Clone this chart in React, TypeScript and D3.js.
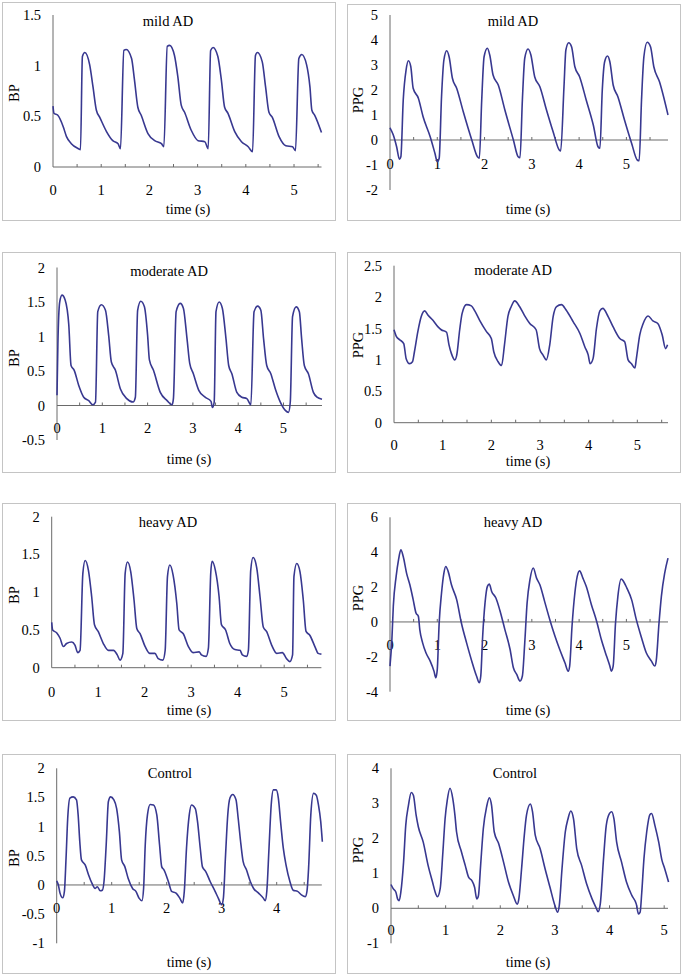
import React from "react";
import * as d3 from "d3";

type Pt = [number, number];

// ---------- data (time s, value) ----------
const mildBP: Pt[] = [
  [0, 0.6], [0.02, 0.53], [0.1, 0.51], [0.21, 0.4], [0.28, 0.3], [0.38, 0.23], [0.53, 0.18], [0.57, 0.17],
  [0.61, 1.09], [0.66, 1.13], [0.76, 1.01], [0.83, 0.79], [0.9, 0.56], [0.97, 0.49], [1.11, 0.35], [1.24, 0.26], [1.35, 0.23], [1.4, 0.18],
  [1.47, 1.15], [1.52, 1.16], [1.63, 1.07], [1.69, 0.86], [1.76, 0.59], [1.83, 0.51], [1.97, 0.33], [2.11, 0.26], [2.25, 0.23], [2.3, 0.2],
  [2.37, 1.19], [2.42, 1.2], [2.52, 1.1], [2.59, 0.89], [2.66, 0.61], [2.73, 0.54], [2.87, 0.36], [3.01, 0.26], [3.15, 0.25], [3.22, 0.18],
  [3.27, 1.15], [3.32, 1.18], [3.42, 1.09], [3.49, 0.87], [3.56, 0.59], [3.63, 0.53], [3.77, 0.35], [3.91, 0.25], [4.05, 0.2], [4.14, 0.15],
  [4.2, 1.1], [4.24, 1.13], [4.34, 1.04], [4.41, 0.79], [4.48, 0.54], [4.55, 0.49], [4.69, 0.3], [4.83, 0.21], [4.97, 0.2], [5.03, 0.16],
  [5.1, 1.07], [5.16, 1.11], [5.26, 1.01], [5.33, 0.79], [5.37, 0.56], [5.43, 0.51], [5.57, 0.34],
];

const mildPPG: Pt[] = [
  [0, 0.49], [0.07, 0.2], [0.14, -0.27], [0.2, -0.77], [0.23, -0.67], [0.28, 1.6], [0.34, 2.8], [0.39, 3.17], [0.44, 2.93], [0.49, 2.07],
  [0.6, 1.67], [0.7, 0.93], [0.85, 0.13], [0.95, -0.53], [1.0, -0.87], [1.04, -0.73],
  [1.09, 1.73], [1.14, 3.2], [1.2, 3.57], [1.25, 3.33], [1.32, 2.47], [1.41, 2.07], [1.55, 1.13], [1.73, 0], [1.85, -0.67], [1.89, -0.73],
  [1.94, 1.6], [1.99, 3.33], [2.06, 3.67], [2.11, 3.4], [2.18, 2.6], [2.29, 2.2], [2.43, 1.2], [2.61, 0], [2.71, -0.67], [2.75, -0.71],
  [2.8, 1.6], [2.85, 3.27], [2.92, 3.64], [2.98, 3.4], [3.06, 2.53], [3.17, 2.13], [3.31, 1.2], [3.45, 0.33], [3.58, -0.4], [3.61, -0.44],
  [3.68, 2.13], [3.72, 3.6], [3.78, 3.89], [3.84, 3.73], [3.91, 2.93], [4.01, 2.53], [4.15, 1.6], [4.3, 0.6], [4.4, -0.27], [4.44, -0.33],
  [4.49, 2.0], [4.54, 3.13], [4.6, 3.36], [4.65, 3.13], [4.72, 2.2], [4.82, 1.73], [4.96, 0.8], [5.11, -0.13], [5.23, -0.8], [5.27, -0.83],
  [5.32, 1.6], [5.37, 3.33], [5.44, 3.91], [5.51, 3.73], [5.58, 2.93], [5.7, 2.33], [5.88, 1.0],
];

const moderateBP: Pt[] = [
  [0, 0.15], [0.02, 0.9], [0.06, 1.5], [0.11, 1.6], [0.18, 1.53], [0.26, 1.17], [0.31, 0.58], [0.38, 0.51], [0.48, 0.29], [0.59, 0.12], [0.7, 0.07], [0.79, 0.01], [0.85, 0.05],
  [0.9, 1.36], [0.98, 1.46], [1.07, 1.38], [1.14, 1.02], [1.2, 0.63], [1.29, 0.51], [1.4, 0.24], [1.54, 0.1], [1.68, 0.05], [1.73, 0.12],
  [1.78, 1.38], [1.85, 1.51], [1.93, 1.43], [2.0, 1.02], [2.04, 0.66], [2.13, 0.51], [2.28, 0.19], [2.43, 0.07], [2.54, 0.01], [2.57, 0.1],
  [2.63, 1.36], [2.72, 1.48], [2.79, 1.41], [2.87, 0.97], [2.93, 0.61], [3.01, 0.46], [3.13, 0.22], [3.27, 0.12], [3.4, 0.06], [3.43, -0.03], [3.47, 0.05],
  [3.51, 1.36], [3.58, 1.5], [3.65, 1.41], [3.73, 0.97], [3.79, 0.58], [3.86, 0.46], [3.97, 0.19], [4.08, 0.12], [4.19, 0.1], [4.28, 0.01],
  [4.35, 1.36], [4.43, 1.44], [4.5, 1.38], [4.56, 0.97], [4.63, 0.58], [4.72, 0.46], [4.82, 0.24], [4.93, 0.05], [5.04, -0.07], [5.11, -0.1], [5.15, 0.05],
  [5.2, 1.29], [5.28, 1.43], [5.35, 1.36], [5.4, 0.97], [5.46, 0.58], [5.55, 0.46], [5.66, 0.19], [5.74, 0.12], [5.85, 0.09],
];

const moderatePPG: Pt[] = [
  [0, 1.48], [0.05, 1.37], [0.12, 1.32], [0.2, 1.26], [0.25, 1.02], [0.32, 0.94], [0.38, 0.97], [0.42, 1.13], [0.49, 1.45], [0.56, 1.69], [0.63, 1.78],
  [0.7, 1.71], [0.8, 1.63], [0.9, 1.53], [0.97, 1.48], [1.08, 1.44], [1.13, 1.24], [1.18, 1.1], [1.25, 1.0], [1.29, 1.08],
  [1.35, 1.48], [1.4, 1.74], [1.49, 1.88], [1.59, 1.86], [1.66, 1.78], [1.76, 1.63], [1.9, 1.45], [2.0, 1.34], [2.05, 1.13], [2.14, 0.97], [2.21, 0.91],
  [2.27, 1.24], [2.34, 1.69], [2.41, 1.85], [2.48, 1.94], [2.58, 1.85], [2.68, 1.71], [2.79, 1.58], [2.92, 1.48], [2.99, 1.18], [3.06, 1.08], [3.13, 1.0],
  [3.2, 1.24], [3.27, 1.69], [3.34, 1.85], [3.44, 1.88], [3.54, 1.79], [3.68, 1.61], [3.82, 1.42], [3.92, 1.21], [3.99, 1.08], [4.03, 0.94], [4.09, 1.02],
  [4.16, 1.5], [4.23, 1.78], [4.29, 1.82], [4.4, 1.69], [4.5, 1.53], [4.64, 1.34], [4.74, 1.29], [4.81, 1.0], [4.88, 0.94], [4.95, 0.87], [4.98, 1.02],
  [5.05, 1.4], [5.12, 1.58], [5.22, 1.7], [5.32, 1.62], [5.42, 1.58], [5.51, 1.4], [5.58, 1.18], [5.62, 1.24],
];

const heavyBP: Pt[] = [
  [0, 0.6], [0.02, 0.5], [0.11, 0.46], [0.18, 0.39], [0.25, 0.28], [0.32, 0.32], [0.43, 0.34], [0.5, 0.3], [0.56, 0.2], [0.61, 0.23],
  [0.67, 1.25], [0.72, 1.42], [0.79, 1.29], [0.86, 0.94], [0.92, 0.57], [1.0, 0.48], [1.11, 0.32], [1.22, 0.23], [1.33, 0.23], [1.41, 0.17], [1.47, 0.1], [1.53, 0.19],
  [1.58, 1.25], [1.63, 1.4], [1.7, 1.27], [1.77, 0.9], [1.83, 0.52], [1.9, 0.45], [2.01, 0.28], [2.11, 0.19], [2.22, 0.19], [2.29, 0.12], [2.39, 0.1], [2.44, 0.23],
  [2.49, 1.21], [2.54, 1.36], [2.61, 1.23], [2.69, 0.85], [2.74, 0.5], [2.83, 0.45], [2.94, 0.28], [3.04, 0.2], [3.17, 0.21], [3.22, 0.17], [3.32, 0.15], [3.37, 0.26],
  [3.42, 1.25], [3.45, 1.41], [3.52, 1.29], [3.6, 0.94], [3.65, 0.57], [3.74, 0.5], [3.83, 0.32], [3.94, 0.24], [4.05, 0.23], [4.1, 0.17], [4.19, 0.15], [4.23, 0.23],
  [4.28, 1.29], [4.33, 1.46], [4.41, 1.32], [4.48, 0.94], [4.55, 0.54], [4.62, 0.48], [4.73, 0.3], [4.84, 0.19], [4.96, 0.2], [5.05, 0.12], [5.12, 0.08], [5.18, 0.17],
  [5.21, 1.21], [5.27, 1.38], [5.34, 1.27], [5.41, 0.9], [5.47, 0.48], [5.55, 0.43], [5.66, 0.28], [5.73, 0.19], [5.8, 0.18],
];

const heavyPPG: Pt[] = [
  [0, -2.53], [0.04, -1.0], [0.07, 0.9], [0.13, 2.61], [0.18, 3.56], [0.23, 4.13], [0.28, 3.75], [0.35, 2.8], [0.42, 2.13], [0.49, 1.28], [0.55, 0.51], [0.6, 0.32],
  [0.63, -0.44], [0.69, -1.2], [0.76, -1.77], [0.85, -2.25], [0.93, -2.82], [0.97, -3.2], [1.0, -2.72],
  [1.04, -0.06], [1.09, 1.66], [1.14, 2.8], [1.18, 3.18], [1.23, 2.9], [1.3, 2.13], [1.41, 1.28], [1.51, -0.06], [1.62, -1.2], [1.73, -2.25], [1.83, -3.1], [1.89, -3.49], [1.92, -3.1],
  [1.96, -0.82], [2.01, 1.09], [2.06, 2.04], [2.1, 2.17], [2.15, 1.75], [2.24, 1.37], [2.32, 0.7], [2.43, -0.44], [2.54, -1.58], [2.61, -2.63], [2.68, -3.01], [2.75, -3.39], [2.8, -3.1],
  [2.85, -1.2], [2.9, 1.09], [2.96, 2.42], [3.03, 3.09], [3.1, 2.51], [3.17, 2.13], [3.27, 1.18], [3.38, 0.13], [3.49, -0.82], [3.59, -1.58], [3.7, -2.34], [3.77, -2.82], [3.8, -2.53],
  [3.85, -0.25], [3.91, 1.66], [3.96, 2.61], [4.01, 2.93], [4.08, 2.51], [4.15, 2.04], [4.26, 0.99], [4.37, 0.04], [4.47, -1.01], [4.58, -1.96], [4.65, -2.53], [4.68, -2.82], [4.72, -2.53],
  [4.77, -0.06], [4.82, 1.47], [4.89, 2.46], [4.94, 2.32], [5.01, 1.94], [5.11, 1.28], [5.21, 0.13], [5.32, -0.91], [5.42, -1.77], [5.53, -2.25], [5.6, -2.53], [5.63, -2.25],
  [5.69, -0.06], [5.74, 1.47], [5.81, 2.8], [5.88, 3.66],
];

const controlBP: Pt[] = [
  [0, 0.07], [0.03, 0], [0.06, -0.14], [0.11, -0.22], [0.14, -0.11], [0.17, 0.46], [0.2, 1.14], [0.24, 1.49], [0.3, 1.51], [0.36, 1.46], [0.39, 1.2], [0.42, 0.74],
  [0.45, 0.43], [0.52, 0.34], [0.58, 0.17], [0.64, 0.03], [0.7, -0.06], [0.74, -0.03], [0.79, -0.1], [0.83, -0.09], [0.86, 0.06],
  [0.9, 0.69], [0.94, 1.43], [0.98, 1.51], [1.04, 1.46], [1.09, 1.31], [1.14, 0.91], [1.18, 0.43], [1.24, 0.31], [1.3, 0.11], [1.38, -0.06], [1.44, -0.11], [1.5, -0.23], [1.55, -0.27], [1.58, -0.06],
  [1.61, 0.69], [1.65, 1.2], [1.7, 1.38], [1.76, 1.37], [1.82, 1.2], [1.87, 0.69], [1.91, 0.31], [1.95, 0.26], [2.03, 0.06], [2.09, -0.11], [2.17, -0.14], [2.24, -0.23], [2.29, -0.31], [2.32, -0.11],
  [2.36, 0.63], [2.41, 1.2], [2.45, 1.37], [2.52, 1.31], [2.56, 1.09], [2.61, 0.63], [2.65, 0.31], [2.71, 0.23], [2.79, 0.06], [2.88, -0.11], [2.94, -0.23], [3.0, -0.34], [3.03, -0.23],
  [3.07, 0.51], [3.11, 1.2], [3.15, 1.49], [3.2, 1.55], [3.26, 1.46], [3.3, 1.14], [3.35, 0.69], [3.39, 0.4], [3.45, 0.26], [3.52, 0.06], [3.58, -0.06], [3.67, -0.14], [3.76, -0.23], [3.79, -0.27], [3.82, -0.11],
  [3.86, 0.63], [3.9, 1.37], [3.94, 1.63], [3.99, 1.63], [4.03, 1.49], [4.07, 1.09], [4.12, 0.63], [4.17, 0.34], [4.24, 0.06], [4.3, -0.09], [4.38, -0.11], [4.45, -0.17], [4.52, -0.2], [4.55, -0.11],
  [4.58, 0.29], [4.62, 1.2], [4.67, 1.57], [4.72, 1.54], [4.76, 1.37], [4.8, 1.09], [4.83, 0.74],
];

const controlPPG: Pt[] = [
  [0, 0.68], [0.04, 0.56], [0.09, 0.46], [0.12, 0.27], [0.15, 0.22], [0.18, 0.46], [0.23, 1.32], [0.27, 2.37], [0.32, 2.95], [0.37, 3.31], [0.41, 3.23],
  [0.46, 2.66], [0.5, 2.33], [0.59, 1.89], [0.68, 1.22], [0.76, 0.75], [0.82, 0.41], [0.85, 0.33], [0.9, 0.56],
  [0.95, 1.61], [0.99, 2.56], [1.03, 3.09], [1.08, 3.43], [1.13, 3.14], [1.17, 2.66], [1.2, 2.18], [1.29, 1.61], [1.36, 1.22], [1.42, 0.89], [1.48, 0.79], [1.53, 0.6], [1.57, 0.27], [1.6, 0.36],
  [1.64, 1.22], [1.69, 2.28], [1.75, 2.9], [1.8, 3.16], [1.84, 2.95], [1.89, 2.18], [1.97, 1.85], [2.06, 1.32], [2.15, 0.75], [2.24, 0.36], [2.31, 0.12], [2.34, 0.27],
  [2.39, 1.13], [2.44, 2.09], [2.48, 2.66], [2.55, 2.98], [2.59, 2.76], [2.64, 2.09], [2.73, 1.7], [2.82, 1.13], [2.91, 0.6], [3.0, 0.08], [3.05, -0.11], [3.08, 0.08],
  [3.13, 1.13], [3.19, 2.18], [3.24, 2.56], [3.29, 2.78], [3.34, 2.56], [3.4, 1.7], [3.49, 1.22], [3.58, 0.7], [3.68, 0.27], [3.75, 0.03], [3.79, -0.1], [3.83, 0.12],
  [3.89, 1.42], [3.94, 2.37], [4.0, 2.71], [4.04, 2.76], [4.08, 2.56], [4.13, 1.89], [4.22, 1.32], [4.31, 0.75], [4.41, 0.36], [4.49, 0.12], [4.53, -0.16], [4.56, -0.11],
  [4.59, 0.46], [4.63, 1.42], [4.68, 2.18], [4.74, 2.68], [4.77, 2.71], [4.83, 2.37], [4.9, 1.89], [4.96, 1.37], [5.0, 1.18], [5.08, 0.75],
];

const titles = ["mild AD", "mild AD", "moderate AD", "moderate AD", "heavy AD", "heavy AD", "Control", "Control"];
const yLabels = ["BP", "PPG", "BP", "PPG", "BP", "PPG", "BP", "PPG"];
const series = [mildBP, mildPPG, moderateBP, moderatePPG, heavyBP, heavyPPG, controlBP, controlPPG];
const yTickValues = [
  [0, 0.5, 1, 1.5],
  [-2, -1, 0, 1, 2, 3, 4, 5],
  [-0.5, 0, 0.5, 1, 1.5, 2],
  [0, 0.5, 1, 1.5, 2, 2.5],
  [0, 0.5, 1, 1.5, 2],
  [-4, -2, 0, 2, 4, 6],
  [-1, -0.5, 0, 0.5, 1, 1.5, 2],
  [-1, 0, 1, 2, 3, 4],
];
const xTickLabelValues = [
  [0, 1, 2, 3, 4, 5],
  [0, 1, 2, 3, 4, 5],
  [0, 1, 2, 3, 4, 5],
  [0, 1, 2, 3, 4, 5],
  [0, 1, 2, 3, 4, 5],
  [0, 1, 2, 3, 4, 5],
  [0, 1, 2, 3, 4],
  [0, 1, 2, 3, 4, 5],
];
const xMax = [5.57, 5.88, 5.85, 5.63, 5.8, 5.88, 4.82, 5.07];

// ---------- layout (pixels) ----------
interface Layout {
  box: [number, number, number, number];
  ax0: number; ax1: number;
  yTop: number; yBot: number;
  xLabY: number; titleX: number; titleY: number; yLabX: number; yLabY: number; xTitleX: number; xTitleY: number;
}
const layouts: Layout[] = [
  { box: [2, 2, 335, 220], ax0: 53, ax1: 321.5, yTop: 15, yBot: 167, xLabY: 190, titleX: 168, titleY: 21, yLabX: 14, yLabY: 93, xTitleX: 188, xTitleY: 209 },
  { box: [347, 4, 680, 220], ax0: 390, ax1: 668, yTop: 15, yBot: 190, xLabY: 164, titleX: 513, titleY: 21, yLabX: 358, yLabY: 100, xTitleX: 528, xTitleY: 209 },
  { box: [2, 252, 335, 472], ax0: 57, ax1: 322, yTop: 267.5, yBot: 440, xLabY: 428, titleX: 169, titleY: 271, yLabX: 14, yLabY: 358, xTitleX: 189, xTitleY: 459 },
  { box: [347, 252, 680, 472], ax0: 394, ax1: 668, yTop: 265.7, yBot: 422.7, xLabY: 445, titleX: 513, titleY: 270, yLabX: 358, yLabY: 345, xTitleX: 528, xTitleY: 461 },
  { box: [2, 503, 335, 720], ax0: 51.7, ax1: 321.4, yTop: 516.7, yBot: 667.7, xLabY: 691.7, titleX: 168, titleY: 521.7, yLabX: 14, yLabY: 595, xTitleX: 189, xTitleY: 710 },
  { box: [347, 503, 680, 720], ax0: 390, ax1: 668, yTop: 517.3, yBot: 691.7, xLabY: 645, titleX: 513, titleY: 521.7, yLabX: 358, yLabY: 598, xTitleX: 528, xTitleY: 710 },
  { box: [2, 754, 335, 973], ax0: 56.7, ax1: 321.8, yTop: 768.3, yBot: 943.3, xLabY: 908.3, titleX: 170, titleY: 772.7, yLabX: 14, yLabY: 858, xTitleX: 189, xTitleY: 961.7 },
  { box: [347, 754, 680, 973], ax0: 391, ax1: 668, yTop: 768.3, yBot: 943.3, xLabY: 930, titleX: 515, titleY: 772.7, yLabX: 358, yLabY: 850, xTitleX: 528, xTitleY: 961.7 },
];

const FONT = "'Liberation Serif', 'Times New Roman', serif";
const FS = 14.5;
const LINE = "#383890";
const AXIS = "#6a6a6a";

function Panel({ i }: { i: number }) {
  const L = layouts[i];
  const data = series[i];
  const yt = yTickValues[i];
  const x = d3.scaleLinear().domain([0, xMax[i]]).range([L.ax0, L.ax1]);
  const y = d3.scaleLinear().domain([yt[0], yt[yt.length - 1]]).range([L.yBot, L.yTop]);
  const line = d3
    .line<Pt>()
    .x((d) => x(d[0]))
    .y((d) => y(d[1]))
    .curve(d3.curveMonotoneX);
  const y0 = y(Math.max(0, yt[0]));
  const minorTicks = d3.range(0.5, xMax[i] + 1e-6, 0.5);
  const [bx0, by0, bx1, by1] = L.box;
  return (
    <g>
      <rect x={bx0 + 0.5} y={by0 + 0.5} width={bx1 - bx0} height={by1 - by0} fill="white" stroke="#c4c4c4" strokeWidth={1} />
      <line x1={L.ax0} x2={L.ax0} y1={L.yTop} y2={L.yBot} stroke={AXIS} strokeWidth={1} />
      <line x1={L.ax0} x2={L.ax1} y1={y0} y2={y0} stroke={AXIS} strokeWidth={1} />
      {minorTicks.map((t) => (
        <line key={t} x1={x(t)} x2={x(t)} y1={y0} y2={y0 - 3} stroke={AXIS} strokeWidth={1} />
      ))}
      {yt.map((v) => (
        <text key={v} x={L.ax0 - 12} y={y(v)} textAnchor="end" dominantBaseline="central" fontFamily={FONT} fontSize={FS} fill="#000">
          {String(v)}
        </text>
      ))}
      {xTickLabelValues[i].map((t) => (
        <text key={t} x={x(t)} y={L.xLabY} textAnchor="middle" dominantBaseline="central" fontFamily={FONT} fontSize={FS} fill="#000">
          {String(t)}
        </text>
      ))}
      <path d={line(data) || ""} fill="none" stroke={LINE} strokeWidth={1.6} strokeLinejoin="round" />
      <text x={L.titleX} y={L.titleY} textAnchor="middle" dominantBaseline="central" fontFamily={FONT} fontSize={FS} fill="#000">
        {titles[i]}
      </text>
      <text x={L.xTitleX} y={L.xTitleY} textAnchor="middle" dominantBaseline="central" fontFamily={FONT} fontSize={FS} fill="#000">
        time (s)
      </text>
      <text
        transform={`translate(${L.yLabX},${L.yLabY}) rotate(-90)`}
        textAnchor="middle"
        dominantBaseline="central"
        fontFamily={FONT}
        fontSize={FS}
        fill="#000"
      >
        {yLabels[i]}
      </text>
    </g>
  );
}

export default function App() {
  return (
    <div style={{ position: "absolute", left: 0, top: 0 }}>
      <svg width={685} height={976} style={{ display: "block", background: "white" }}>
        {layouts.map((_, i) => (
          <Panel key={i} i={i} />
        ))}
      </svg>
    </div>
  );
}
